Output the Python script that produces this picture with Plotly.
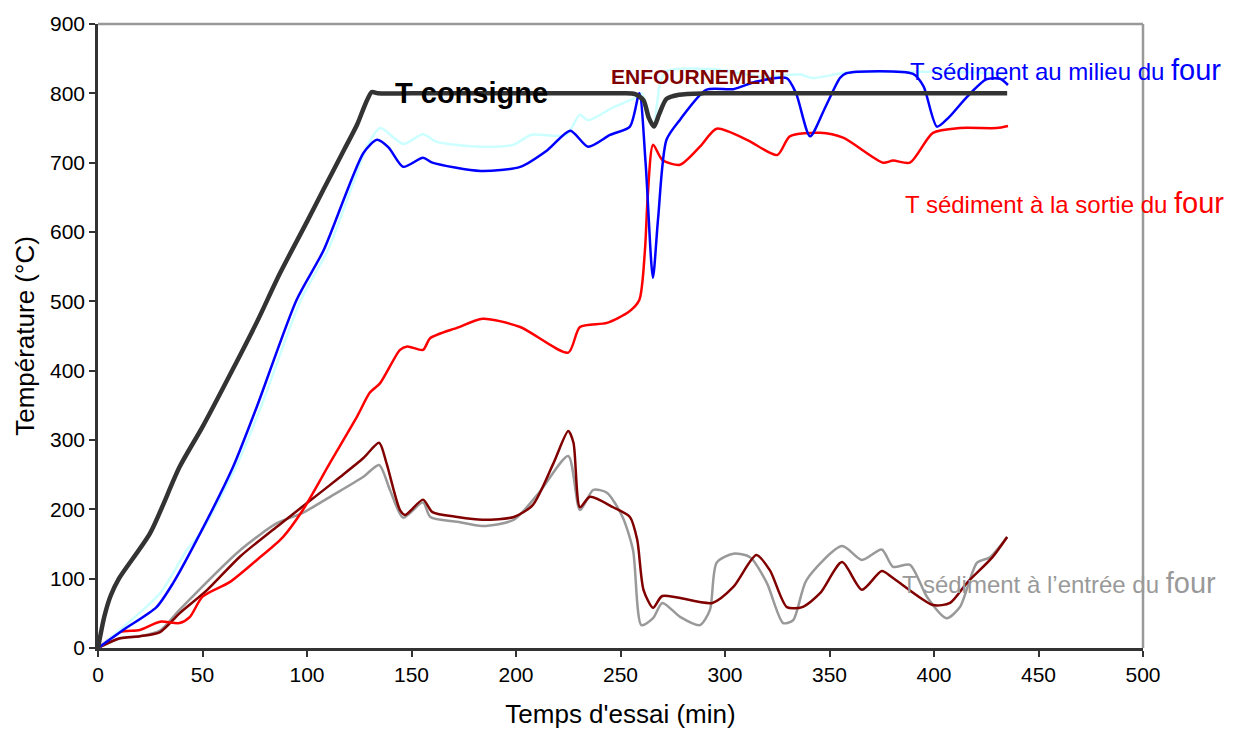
import plotly.graph_objects as go

# ---- data ----
t_consigne_x = [0, 3, 6, 10, 25, 39, 50, 65, 76, 87, 100, 108, 118, 124, 128, 131, 134, 150, 200, 250, 257, 261, 263.5, 266, 268.5, 272, 278, 290, 350, 400, 435]
t_consigne_y = [0, 45, 75, 100, 166, 261, 319, 405, 470, 540, 615, 662, 720, 755, 785, 802, 800, 800, 800, 800, 799, 790, 765, 752, 770, 792, 798, 800, 800, 800, 800]

milieu_x = [0, 12, 28, 36, 49, 64.6, 76, 95, 108, 127, 133.5, 139, 146, 155.5, 160, 183, 202, 215, 226, 234.5, 245, 254.5, 259, 262, 265.5, 268, 272, 278.5, 291, 304, 315, 329.5, 334, 340.7, 348, 355, 358, 390, 395, 401.4, 407, 415.8, 425, 431.6, 435.4]
milieu_y = [0, 26, 59, 94, 166, 261, 348, 502, 574, 714, 733, 722, 694, 707, 700, 688, 694, 718, 746, 723, 740, 752, 800, 700, 534, 620, 733, 762, 805, 806, 817, 822, 800, 738, 780, 822, 829, 828, 810, 752, 765, 795, 820, 821, 812]

cyan_x = [0, 12, 29.7, 42.5, 50, 66, 78, 97, 110, 122, 128.7, 135, 146, 155.5, 162, 183, 199, 207, 224, 230.6, 234.5, 246, 258, 260, 265.6, 269, 272, 294, 318, 336, 342, 358, 387, 398, 420, 435]
cyan_y = [0, 30, 79, 141, 170, 261, 348, 502, 574, 670, 723, 750, 727, 741, 730, 723, 726, 740, 740, 769, 761, 779, 795, 800, 755, 815, 832, 835, 824, 827, 822, 830, 831, 831, 830, 828]

sortie_x = [0, 10.5, 20, 29.7, 39, 44, 50, 63, 76, 88.5, 98, 111, 124, 130, 135, 144.5, 148, 155.5, 159, 172, 184, 202, 225, 230.6, 243.5, 254, 259, 261.7, 263, 265.6, 270, 278.5, 288, 296, 310.5, 325, 331, 345.5, 356.5, 375.6, 380.4, 388.5, 399.5, 412.4, 430, 435.4]
sortie_y = [0, 23, 26, 38, 36, 45, 74, 95, 127, 160, 199, 267, 334, 368, 382, 430, 435, 430, 447, 462, 475, 463, 426, 463, 469, 485, 502, 574, 650, 726, 704, 697, 723, 749, 733, 711, 738, 743, 736, 700, 703, 700, 743, 750, 750, 753]

maroon_x = [0, 10.5, 20, 29.7, 39, 52, 68, 85.6, 100, 116, 127, 134.5, 138, 144.5, 147, 155.5, 160, 172, 184, 199, 208, 218, 225, 227.5, 230.6, 235.4, 246.5, 254.5, 258, 261, 265.6, 270, 294, 304, 315, 321.5, 329.6, 337, 345.5, 356, 365.5, 375, 380.4, 399.5, 407.7, 415.8, 428, 435]
maroon_y = [0, 14, 17, 23, 50, 83, 132, 175, 209, 247, 274, 296, 267, 199, 192, 214, 196, 189, 185, 189, 206, 267, 313, 296, 203, 218, 203, 189, 156, 84, 58, 75, 65, 88, 134, 112, 59, 59, 79, 124, 84, 111, 101, 62, 65, 94, 131, 160]

entree_x = [0, 10.5, 20, 29.7, 39, 68, 85.6, 98, 111, 127, 134.5, 139.7, 146, 155.5, 159, 172, 184, 199, 211, 225, 230.6, 237, 243.5, 251, 256, 260, 265.6, 270, 278.5, 288, 292.8, 296, 304, 312, 320, 327.8, 332.6, 339, 356, 365.5, 375, 380.4, 388.5, 396.6, 406, 412.4, 420.6, 426.8, 435]
entree_y = [0, 14, 17, 25, 55, 141, 180, 195, 218, 247, 264, 228, 188, 210, 189, 182, 176, 185, 224, 277, 199, 228, 224, 189, 141, 33, 43, 65, 45, 33, 55, 123, 136, 131, 94, 36, 40, 98, 147, 127, 142, 117, 120, 74, 43, 59, 123, 131, 160]

x_ticks = [0, 50, 100, 150, 200, 250, 300, 350, 400, 450, 500]
y_ticks = [0, 100, 200, 300, 400, 500, 600, 700, 800, 900]

FONT = "Liberation Sans, Arial, sans-serif"

fig = go.Figure()

def add(x, y, color, width, smoothing=0.7):
    fig.add_trace(go.Scatter(x=x, y=y, mode="lines",
                             line=dict(color=color, width=width, shape="spline", smoothing=smoothing),
                             showlegend=False, hoverinfo="x+y"))

add(entree_x, entree_y, "#999999", 2.5)
add(maroon_x, maroon_y, "#800000", 2.5)
add(sortie_x, sortie_y, "#FF0000", 2.5)
add(cyan_x, cyan_y, "#CCFFFF", 2.5)
add(milieu_x, milieu_y, "#0000FF", 2.5)
add(t_consigne_x, t_consigne_y, "#333333", 4.5)

# annotations
fig.add_annotation(x=178.7, y=800, text="<b>T consigne</b>", showarrow=False,
                   font=dict(family=FONT, size=29, color="#000000"))
fig.add_annotation(x=288, y=824, text="<b>ENFOURNEMENT</b>", showarrow=False,
                   font=dict(family=FONT, size=21, color="#800000"))
fig.add_annotation(x=387.6, y=834, xanchor="left",
                   text='T sédiment au milieu du <span style="font-size:29px">four</span>',
                   showarrow=False, font=dict(family=FONT, size=24, color="#0000FF"))
fig.add_annotation(x=385, y=642, xanchor="left",
                   text='T sédiment à la sortie du <span style="font-size:29px">four</span>',
                   showarrow=False, font=dict(family=FONT, size=24, color="#FF0000"))
fig.add_annotation(x=383.7, y=94, xanchor="left",
                   text='T sédiment à l’entrée du <span style="font-size:29px">four</span>',
                   showarrow=False, font=dict(family=FONT, size=24, color="#999999"))

# top and right frame (gray)
fig.add_shape(type="line", xref="paper", yref="paper", x0=0, x1=1, y0=1, y1=1,
              line=dict(color="#999999", width=2.5))
fig.add_shape(type="line", xref="paper", yref="paper", x0=1, x1=1, y0=0, y1=1,
              line=dict(color="#999999", width=2.5))

fig.update_layout(
    width=1227, height=721,
    margin=dict(l=90, r=92, t=16, b=81, autoexpand=False),
    paper_bgcolor="white", plot_bgcolor="white",
    font=dict(family=FONT, size=21, color="#000000"),
    xaxis=dict(range=[0, 500], tickvals=x_ticks, showgrid=False, zeroline=False,
               showline=True, linecolor="#333333", linewidth=2.5, automargin=False,
               ticks="outside", ticklen=6, tickcolor="#333333", tickwidth=1.5,
               tickfont=dict(family=FONT, size=21),
               title=dict(text="Temps d'essai (min)", font=dict(family=FONT, size=26), standoff=22)),
    yaxis=dict(range=[0, 900], tickvals=y_ticks, showgrid=False, zeroline=False,
               showline=True, linecolor="#333333", linewidth=2.5, automargin=False,
               ticks="outside", ticklen=6, tickcolor="#333333", tickwidth=1.5,
               tickfont=dict(family=FONT, size=21),
               title=dict(text="Température (°C)", font=dict(family=FONT, size=26), standoff=8)),
)

fig.write_html("out.html")
